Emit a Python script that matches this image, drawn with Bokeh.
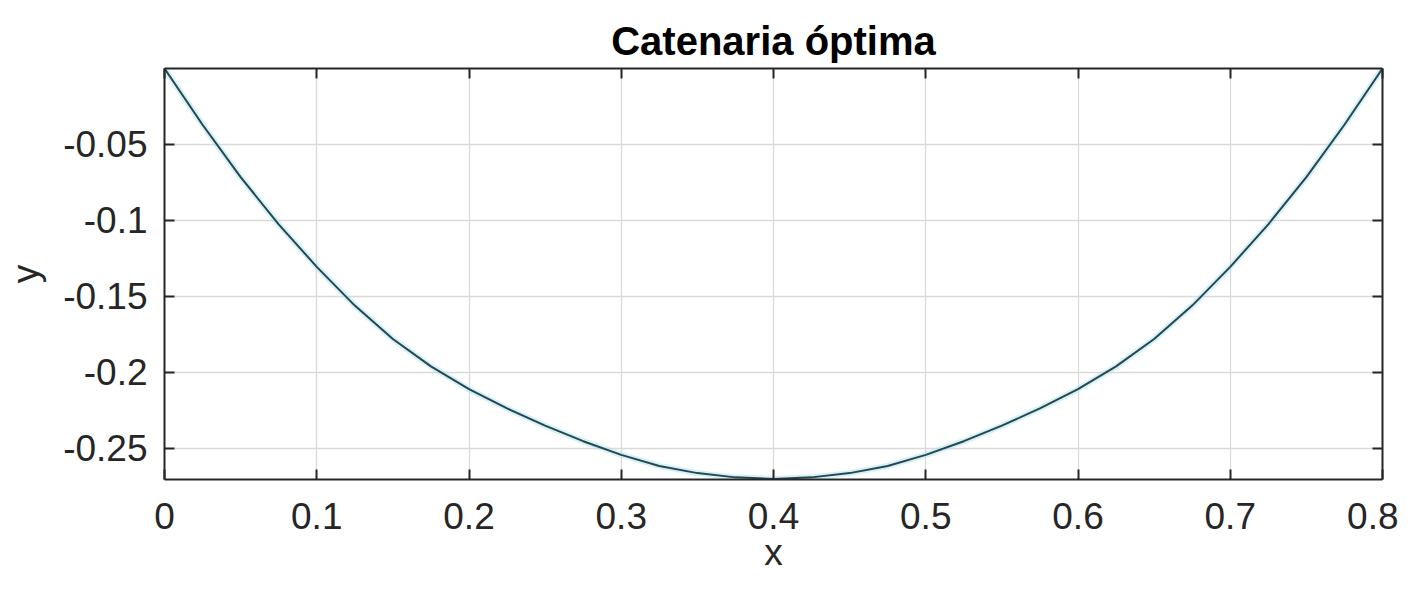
from bokeh.plotting import figure
from bokeh.models import LinearAxis, Range1d, FixedTicker, Title, Grid
from bokeh.embed import file_html
from bokeh.resources import INLINE

# Curve values
x_vals = [0.0, 0.025, 0.05, 0.075, 0.1, 0.125, 0.15, 0.175, 0.2, 0.225, 0.25, 0.275,
          0.3, 0.325, 0.35, 0.375, 0.4, 0.425, 0.45, 0.475, 0.5, 0.525, 0.55, 0.575,
          0.6, 0.625, 0.65, 0.675, 0.7, 0.725, 0.75, 0.775, 0.8]
y_vals = [0.0, -0.0370, -0.0715, -0.1025, -0.1305, -0.1560, -0.1780, -0.1960, -0.2110,
          -0.2236, -0.2350, -0.2452, -0.2542, -0.2615, -0.2662, -0.2690, -0.2700,
          -0.2690, -0.2662, -0.2615, -0.2542, -0.2452, -0.2350, -0.2236, -0.2110,
          -0.1960, -0.1780, -0.1560, -0.1305, -0.1025, -0.0715, -0.0370, 0.0]
x_ticks = [0, 0.1, 0.2, 0.3, 0.4, 0.5, 0.6, 0.7, 0.8]
x_tick_labels = ["0", "0.1", "0.2", "0.3", "0.4", "0.5", "0.6", "0.7", "0.8"]
y_ticks = [-0.25, -0.2, -0.15, -0.1, -0.05]
y_tick_labels = ["-0.25", "-0.2", "-0.15", "-0.1", "-0.05"]

FONT = "Liberation Sans"
TXT = "#262626"

p = figure(width=1398, height=577, output_backend="svg", toolbar_location=None,
           x_range=Range1d(0, 0.8), y_range=Range1d(-0.2704, 0),
           min_border_left=164, min_border_right=16, min_border_top=68,
           min_border_bottom=98, x_axis_location=None, y_axis_location=None)
p.outline_line_color = None
p.background_fill_color = "white"
p.border_fill_color = "white"

p.title = Title(text="Catenaria óptima", align="center", text_font=FONT,
                text_font_size="40px", text_font_style="bold", text_color="#000000",
                standoff=12)

def mk_axis(ticks, labels, show_labels, axis_label=None):
    ax = LinearAxis()
    ax.ticker = FixedTicker(ticks=ticks)
    ax.major_label_overrides = {t: l for t, l in zip(ticks, labels)}
    ax.major_tick_in = 10
    ax.major_tick_out = 0
    ax.minor_tick_in = 0
    ax.minor_tick_out = 0
    ax.axis_line_color = "#262626"
    ax.axis_line_width = 2
    ax.major_tick_line_color = "#262626"
    ax.major_tick_line_width = 2
    ax.major_label_text_font = FONT
    ax.major_label_text_font_size = "37px"
    ax.major_label_text_color = TXT
    ax.major_label_text_font_style = "normal"
    if not show_labels:
        ax.major_label_text_font_size = "0px"
        ax.major_label_text_alpha = 0
    if axis_label:
        ax.axis_label = axis_label
        ax.axis_label_text_font = FONT
        ax.axis_label_text_font_size = "37px"
        ax.axis_label_text_font_style = "normal"
        ax.axis_label_text_color = TXT
    return ax

xb = mk_axis(x_ticks, x_tick_labels, True, "x")
xb.major_label_standoff = 23
xb.axis_label_standoff = 0
p.add_layout(xb, "below")
yl = mk_axis(y_ticks, y_tick_labels, True, "y")
yl.major_label_standoff = 17
yl.axis_label_standoff = 14
p.add_layout(yl, "left")
xt = mk_axis(x_ticks, x_tick_labels, False)
p.add_layout(xt, "above")
yr = mk_axis(y_ticks, y_tick_labels, False)
p.add_layout(yr, "right")

p.add_layout(Grid(dimension=0, ticker=xb.ticker, grid_line_color="#d9d9d9", grid_line_width=1.3))
p.add_layout(Grid(dimension=1, ticker=yl.ticker, grid_line_color="#d9d9d9", grid_line_width=1.3))

p.line(x_vals, y_vals, line_color="#a8e6f0", line_width=6, line_alpha=0.5)
p.line(x_vals, y_vals, line_color="#2a4550", line_width=2)

open("out.html", "w").write(file_html(p, INLINE))
